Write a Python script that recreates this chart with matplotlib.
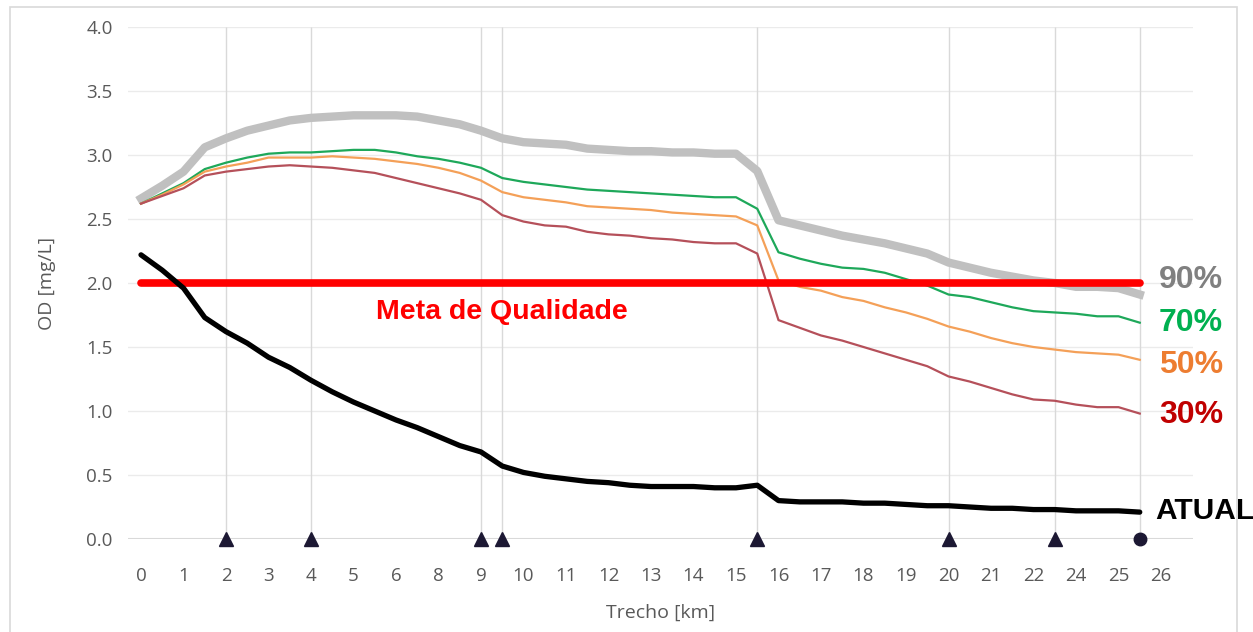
import matplotlib
matplotlib.use("Agg")
import matplotlib.pyplot as plt
import numpy as np
from matplotlib.patches import Rectangle

# point positions along the (category) axis, every half step
trecho_pos = np.arange(0, 24, 0.5)

od_90 = [2.66, 2.76, 2.87, 3.06, 3.13, 3.19, 3.23, 3.27, 3.29, 3.30, 3.31, 3.31, 3.31, 3.30, 3.27,
         3.24, 3.19, 3.13, 3.10, 3.09, 3.08, 3.05, 3.04, 3.03, 3.03, 3.02, 3.02, 3.01, 3.01,
         2.875, 2.49, 2.45, 2.41, 2.37, 2.34, 2.31, 2.27, 2.23, 2.16, 2.12, 2.08, 2.05, 2.02,
         2.00, 1.97, 1.97, 1.96, 1.91]
od_70 = [2.62, 2.70, 2.78, 2.89, 2.94, 2.98, 3.01, 3.02, 3.02, 3.03, 3.04, 3.04, 3.02, 2.99, 2.97,
         2.94, 2.90, 2.82, 2.79, 2.77, 2.75, 2.73, 2.72, 2.71, 2.70, 2.69, 2.68, 2.67, 2.67,
         2.58, 2.24, 2.19, 2.15, 2.12, 2.11, 2.08, 2.03, 1.98, 1.91, 1.89, 1.85, 1.81, 1.78,
         1.77, 1.76, 1.74, 1.74, 1.69]
od_50 = [2.62, 2.69, 2.77, 2.87, 2.91, 2.94, 2.98, 2.98, 2.98, 2.99, 2.98, 2.97, 2.95, 2.93, 2.90,
         2.86, 2.80, 2.71, 2.67, 2.65, 2.63, 2.60, 2.59, 2.58, 2.57, 2.55, 2.54, 2.53, 2.52,
         2.45, 2.02, 1.97, 1.94, 1.89, 1.86, 1.81, 1.77, 1.72, 1.66, 1.62, 1.57, 1.53, 1.50,
         1.48, 1.46, 1.45, 1.44, 1.40]
od_30 = [2.62, 2.68, 2.74, 2.84, 2.87, 2.89, 2.91, 2.92, 2.91, 2.90, 2.88, 2.86, 2.82, 2.78, 2.74,
         2.70, 2.65, 2.53, 2.48, 2.45, 2.44, 2.40, 2.38, 2.37, 2.35, 2.34, 2.32, 2.31, 2.31,
         2.23, 1.71, 1.65, 1.59, 1.55, 1.50, 1.45, 1.40, 1.35, 1.27, 1.23, 1.18, 1.13, 1.09,
         1.08, 1.05, 1.03, 1.03, 0.98]
od_atual = [2.22, 2.10, 1.96, 1.73, 1.62, 1.53, 1.42, 1.34, 1.24, 1.15, 1.07, 1.00, 0.93, 0.87, 0.80,
            0.73, 0.68, 0.57, 0.52, 0.49, 0.47, 0.45, 0.44, 0.42, 0.41, 0.41, 0.41, 0.40, 0.40,
            0.42, 0.30, 0.29, 0.29, 0.29, 0.28, 0.28, 0.27, 0.26, 0.26, 0.25, 0.24, 0.24, 0.23,
            0.23, 0.22, 0.22, 0.22, 0.21]

meta = 2.0
meta_span = [0, 23.5]

tick_labels = ["0", "1", "2", "3", "4", "5", "6", "8", "9", "10", "11", "12", "13", "14", "15",
               "16", "17", "18", "19", "20", "21", "22", "24", "25", "26"]

# monitoring points (triangles) and the final point (circle)
stations = [2, 4, 8, 8.5, 14.5, 19, 21.5]
final_station = [23.5]

tick_font = "Open Sans"
tick_color = "#595959"
label_font = "Liberation Sans"

fig = plt.figure(figsize=(12.53, 6.32), dpi=100)
ax = fig.add_axes([128 / 1253, 93 / 632, (1193 - 128) / 1253, (539 - 27) / 632])

# outer frame of the chart
fig.patches.append(Rectangle((10 / 1253, -0.02), (1237 - 10) / 1253, (625 + 13) / 632,
                             transform=fig.transFigure, fill=False, edgecolor="#d9d9d9", lw=1.2))

ax.set_xlim(-13 / 42.5, 1052 / 42.5)
ax.set_ylim(0, 4)

for y in np.arange(0.5, 4.01, 0.5):
    ax.axhline(y, color="#ebebeb", lw=1.0, zorder=0)
ax.axhline(0, color="#d9d9d9", lw=1.5, zorder=1)
ax.vlines(stations + final_station, 0, 4, color="#d9d9d9", lw=1.0, zorder=0)

ax.plot(trecho_pos, od_90, color="#c0c0c0", lw=6, solid_joinstyle="round", zorder=3)
ax.plot(trecho_pos, od_70, color="#1ea85a", lw=1.6, zorder=4)
ax.plot(trecho_pos, od_50, color="#f4a058", lw=1.6, zorder=4)
ax.plot(trecho_pos, od_30, color="#b5505a", lw=1.6, zorder=4)
ax.plot(meta_span, [meta, meta], color="#ff0000", lw=5.5, solid_capstyle="round", zorder=5)
ax.plot(trecho_pos, od_atual, color="black", lw=3.8, solid_capstyle="round", zorder=6)

ax.plot(stations, [0] * len(stations), "^", color="#1c1833", ms=10, clip_on=False, zorder=7)
ax.plot(final_station, [0], "o", color="#1c1833", ms=9, clip_on=False, zorder=7)

ax.text(8.5, 1.77, "Meta de Qualidade", color="#ff0000", fontsize=20.5, fontweight="bold",
        family=label_font, ha="center", va="center")

end_x = 23.95
ax.text(end_x, 2.02, "90%", color="#808080", fontsize=23, fontweight="bold",
        family=label_font, va="center", clip_on=False)
ax.text(end_x, 1.69, "70%", color="#00b050", fontsize=23, fontweight="bold",
        family=label_font, va="center", clip_on=False)
ax.text(end_x, 1.36, "50%", color="#ed7d31", fontsize=23, fontweight="bold",
        family=label_font, va="center", clip_on=False)
ax.text(end_x, 0.97, "30%", color="#c00000", fontsize=23, fontweight="bold",
        family=label_font, va="center", clip_on=False)
ax.text(23.86, 0.22, "ATUAL", color="black", fontsize=21.5, fontweight="bold",
        family=label_font, va="center", clip_on=False)

for s in ["top", "right", "left", "bottom"]:
    ax.spines[s].set_visible(False)

ax.set_xticks(np.arange(len(tick_labels)))
ax.set_xticklabels(tick_labels)
ax.set_yticks(np.arange(0, 4.01, 0.5))
ax.set_yticklabels([f"{v:.1f}" for v in np.arange(0, 4.01, 0.5)])
ax.tick_params(axis="both", length=0, labelsize=13.5, labelcolor=tick_color)
ax.tick_params(axis="x", pad=20)
ax.tick_params(axis="y", pad=11)
for lab in ax.get_xticklabels() + ax.get_yticklabels():
    lab.set_family(tick_font)

ax.set_xlabel("Trecho [km]", fontsize=14, color=tick_color, family=tick_font, labelpad=14)
ax.set_ylabel("OD [mg/L]", fontsize=14, color=tick_color, family=tick_font, labelpad=22)

plt.savefig("out.png", dpi=100)
